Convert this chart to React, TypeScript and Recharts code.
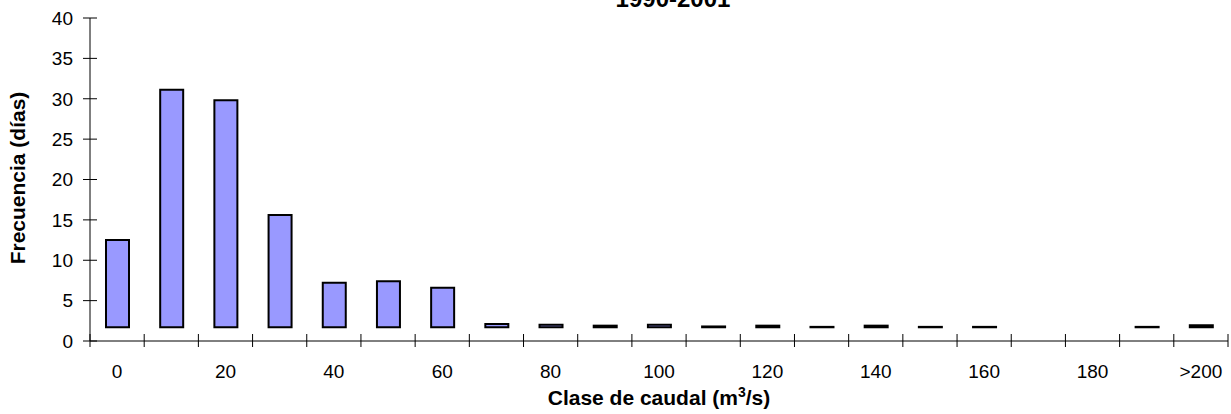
import { BarChart, Bar, XAxis, YAxis } from 'recharts'

// clases de caudal (m3/s) y frecuencia en días
const clases = ['0', '10', '20', '30', '40', '50', '60', '70', '80', '90', '100', '110', '120', '130', '140', '150', '160', '170', '180', '190', '>200']
const frecuencia: (number | null)[] = [12.5, 31.1, 29.8, 15.6, 7.2, 7.4, 6.6, 2.1, 2.0, 1.9, 2.0, 1.8, 1.9, 1.75, 1.9, 1.75, 1.75, null, null, 1.75, 1.95]
// las barras del original arrancan algo por encima de cero
const baseBarra = 1.7
const ticksY = [0, 5, 10, 15, 20, 25, 30, 35, 40]

const data = clases.map((clase, i) => ({
  clase,
  rango: frecuencia[i] == null ? null : [baseBarra, frecuencia[i]],
}))

const FONT = '"Liberation Sans", Arial, sans-serif'

// eje X estilo Excel: marcas entre categorías, etiqueta una de cada dos
function XTick(props: any) {
  const { x, y, payload, index, width, visibleTicksCount } = props
  const step = width / visibleTicksCount
  const left = x - step / 2
  const last = index === visibleTicksCount - 1
  return (
    <g>
      <line x1={left} x2={left} y1={y - 7} y2={y + 6} stroke="#000" />
      {last && <line x1={x + step / 2} x2={x + step / 2} y1={y - 7} y2={y + 6} stroke="#000" />}
      {index % 2 === 0 && (
        <text x={x} y={y + 37} textAnchor="middle" fontSize={19} fontFamily={FONT} fill="#000">
          {payload.value}
        </text>
      )}
    </g>
  )
}

function YTick(props: any) {
  const { x, y, payload } = props
  return (
    <g>
      <line x1={x - 7} x2={x + 7} y1={y} y2={y} stroke="#000" />
      <text x={x - 17} y={y} dy="0.36em" textAnchor="end" fontSize={19} fontFamily={FONT} fill="#000">
        {payload.value}
      </text>
    </g>
  )
}

export default function App() {
  return (
    <div style={{ position: 'absolute', left: 0, top: 0, width: 1231, height: 414, background: '#fff' }}>
      <BarChart
        width={1231}
        height={414}
        data={data}
        margin={{ top: 18, right: 3, bottom: 0, left: 0 }}
        barSize={23}
      >
        <XAxis
          xAxisId="x"
          dataKey="clase"
          interval={0}
          tickLine={false}
          tickSize={0}
          tickMargin={0}
          height={73}
          axisLine={{ stroke: '#000' }}
          tick={<XTick />}
        />
        <XAxis xAxisId="top" orientation="top" dataKey="clase" height={0} tick={false} tickLine={false} axisLine={{ stroke: '#000' }} />
        <YAxis
          yAxisId="y"
          domain={[0, 40]}
          ticks={ticksY}
          interval={0}
          width={90}
          tickLine={false}
          tickSize={0}
          tickMargin={0}
          axisLine={{ stroke: '#000' }}
          tick={<YTick />}
        />
        <YAxis yAxisId="right" orientation="right" domain={[0, 40]} width={0} tick={false} tickLine={false} axisLine={{ stroke: '#000' }} />
        <Bar
          xAxisId="x"
          yAxisId="y"
          dataKey="rango"
          fill="#9999FF"
          stroke="#000"
          strokeWidth={2}
          isAnimationActive={false}
        />
      </BarChart>
      <svg width={1231} height={414} style={{ position: 'absolute', left: 0, top: 0, pointerEvents: 'none' }}>
        <text x={673} y={7} textAnchor="middle" fontSize={24} fontWeight="bold" fontFamily={FONT} fill="#000">
          1990-2001
        </text>
        <text
          transform="translate(25,178) rotate(-90)"
          textAnchor="middle"
          fontSize={21}
          fontWeight="bold"
          fontFamily={FONT}
          fill="#000"
        >
          Frecuencia (días)
        </text>
        <text x={659} y={405} textAnchor="middle" fontSize={21} fontWeight="bold" fontFamily={FONT} fill="#000">
          Clase de caudal (m<tspan dy={-8} fontSize={14}>3</tspan>
          <tspan dy={8}>/s)</tspan>
        </text>
      </svg>
    </div>
  )
}
